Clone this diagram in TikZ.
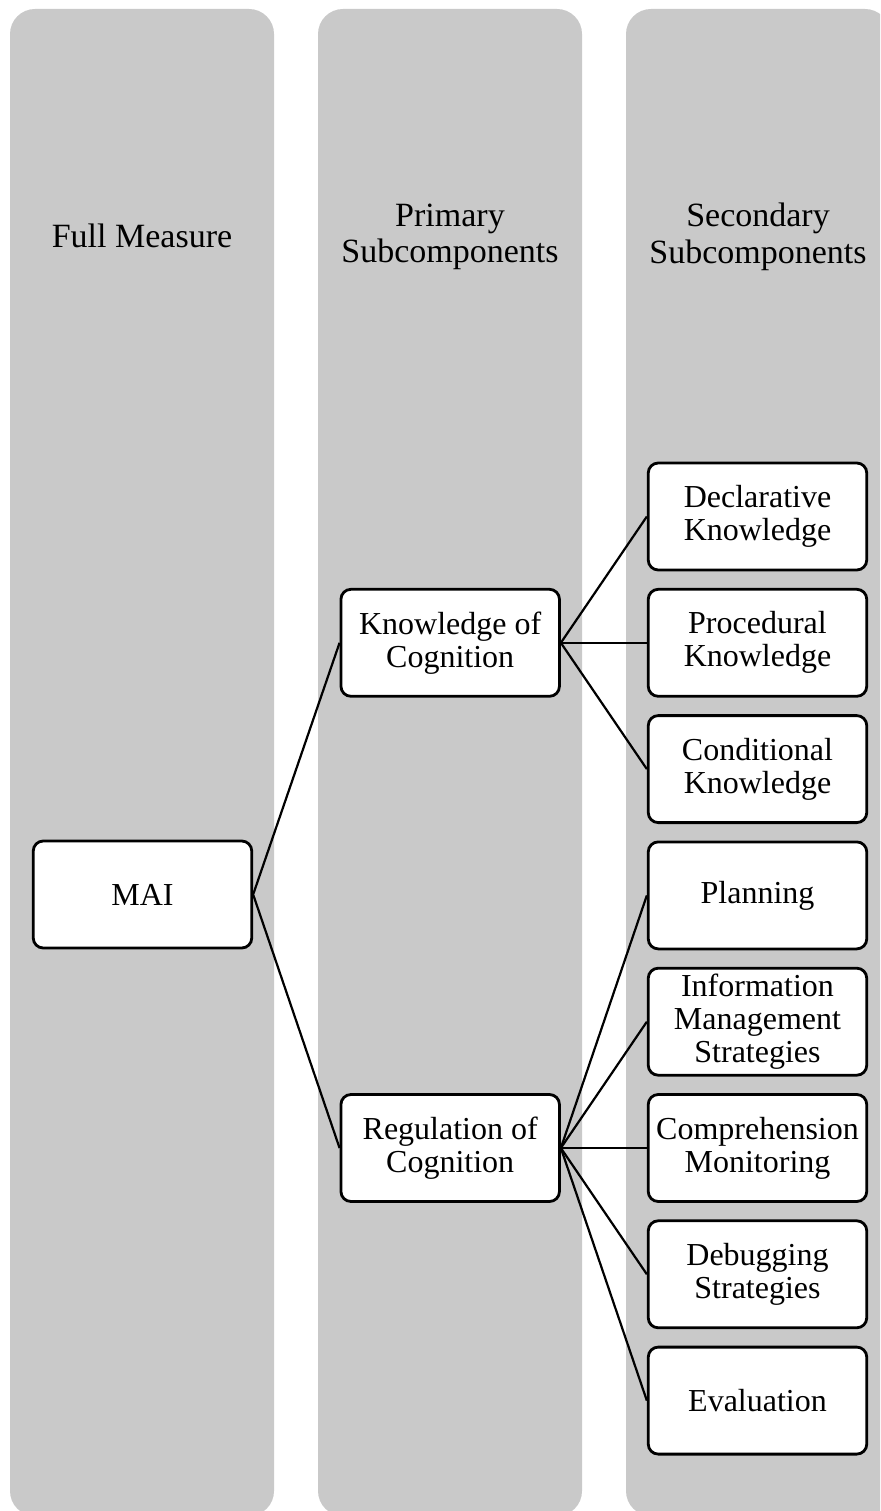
\documentclass[tikz,border=0pt]{standalone}
\usepackage{fontspec}
\setmainfont{Liberation Serif}
\usetikzlibrary{positioning}
\definecolor{colgray}{RGB}{201,201,201}
\tikzset{
  node distance=16.5pt,
  column/.style={fill=colgray, rounded corners=25pt},
  header/.style={align=center, font=\fontsize{34}{36.5}\selectfont},
  box/.style={draw, line width=2.8pt, fill=white, rounded corners=10pt,
    minimum width=218.5pt, minimum height=107pt, inner sep=2pt,
    align=center, font=\fontsize{32}{33}\selectfont},
  link/.style={line width=2.2pt},
}

\begin{document}
\begin{tikzpicture}[x=1pt, y=-1pt]
		\useasboundingbox (0,0) rectangle (880,1511);
		\clip (0,0) rectangle (880,1511);

		% columns
		\fill[column] (10,9) rectangle (274,1516);
		\fill[column] (318,9) rectangle (582,1516);
		\fill[column] (626,9) rectangle (890,1516);

		% headers
		\node[header] (hfull) at (142,236) {Full Measure};
		\node[header] (hprim) at (450,237) {Primary\\Subcomponents};
		\node[header] (hsec) at (758,237) {Secondary\\Subcomponents};

		% secondary subcomponents
		\node[box] (dec) at (757.5,516.5) {Declarative\\Knowledge};
		\node[box, below=of dec] (proc) {Procedural\\Knowledge};
		\node[box, below=of proc] (cond) {Conditional\\Knowledge};
		\node[box, below=of cond] (plan) {Planning};
		\node[box, below=of plan] (info) {Information\\Management\\Strategies};
		\node[box, below=of info] (comp) {Comprehension\\Monitoring};
		\node[box, below=of comp] (debug) {Debugging\\Strategies};
		\node[box, below=of debug] (eval) {Evaluation};

		% primary subcomponents
		\node[box, left=86pt of proc] (know) {Knowledge of\\Cognition};
		\node[box, left=86pt of comp] (reg) {Regulation of\\Cognition};

		% full measure
		\node[box] (mai) at (142.5,894.5) {MAI};

		% links
		\draw[link] (mai.east) -- (know.west)
		(mai.east) -- (reg.west);
		\foreach \n in {dec, proc, cond}
			\draw[link] (know.east) -- (\n.west);
		\foreach \n in {plan, info, comp, debug, eval}
			\draw[link] (reg.east) -- (\n.west);

	\end{tikzpicture}
\end{document}
